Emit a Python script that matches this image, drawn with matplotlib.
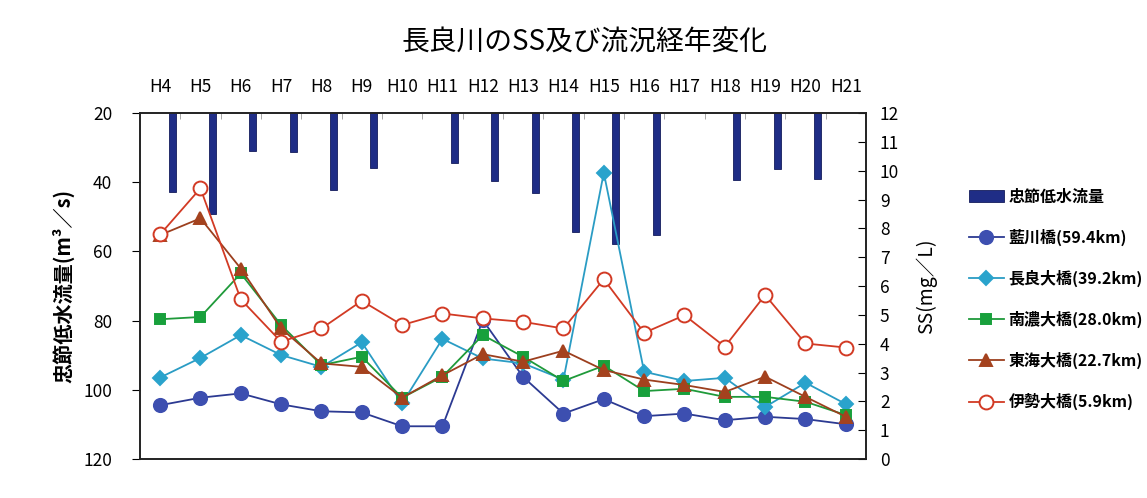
import numpy as np
import matplotlib.pyplot as plt

plt.rcParams['font.family'] = ['Noto Sans CJK JP', 'DejaVu Sans']

years = ["H4", "H5", "H6", "H7", "H8", "H9", "H10", "H11", "H12",
         "H13", "H14", "H15", "H16", "H17", "H18", "H19", "H20", "H21"]

# 忠節低水流量 (m3/s); nan = no bar
flow = [42.9, 49.2, 30.9, 31.2, 42.1, 35.9, np.nan, 34.3, 39.7,
        43.2, 54.5, 57.7, 55.3, np.nan, 39.4, 36.2, 39.0, np.nan]

# SS (mg/L) by station
ss_aikawa = [1.87, 2.13, 2.28, 1.90, 1.66, 1.62, 1.14, 1.14, 4.82,
             2.85, 1.58, 2.08, 1.49, 1.58, 1.35, 1.47, 1.39, 1.21]
ss_nagara = [2.83, 3.51, 4.30, 3.61, 3.20, 4.05, 1.93, 4.17, 3.49,
             3.32, 2.76, 9.93, 3.03, 2.71, 2.82, 1.81, 2.65, 1.91]
ss_nanno = [4.85, 4.93, 6.44, 4.65, 3.26, 3.55, 2.13, 2.86, 4.30,
            3.55, 2.71, 3.24, 2.36, 2.44, 2.16, 2.16, 1.99, 1.53]
ss_tokai = [7.77, 8.35, 6.61, 4.53, 3.32, 3.20, 2.13, 2.91, 3.64,
            3.38, 3.76, 3.09, 2.76, 2.57, 2.33, 2.86, 2.16, 1.47]
ss_ise = [7.79, 9.39, 5.54, 4.07, 4.53, 5.49, 4.65, 5.05, 4.88,
          4.76, 4.53, 6.24, 4.38, 4.99, 3.90, 5.69, 4.01, 3.87]

x = np.arange(len(years))

fig = plt.figure(figsize=(11.47, 4.98), dpi=100)
ax = fig.add_axes([0.122, 0.078, 0.633, 0.695])
ax2 = ax.twinx()

# flow bars hang from the top of the inverted left axis
flow_arr = np.array(flow)
bars = ax.bar(x + 0.3, flow_arr - 20, bottom=20, width=0.17,
              color='#1f2d86', edgecolor='#141c5c', linewidth=0.6,
              label='忠節低水流量')
ax.set_ylim(120, 20)
ax.set_yticks([20, 40, 60, 80, 100, 120])
ax.set_xlim(-0.5, len(years) - 0.5)
ax.set_xticks(x)
ax.set_xticklabels(years)
ax.set_xticks(x[:-1] + 0.5, minor=True)
ax.xaxis.set_ticks_position('top')
ax.tick_params(axis='x', which='major', length=0, pad=12, labelsize=12.5)
ax.tick_params(axis='x', which='minor', direction='in', length=4,
               color='#999999')
ax.tick_params(axis='y', direction='out', length=6, labelsize=12.5, pad=14)
ax.set_ylabel('忠節低水流量(m³／s)', fontsize=14.5, fontweight='bold',
              labelpad=6)

series = [
    (ss_aikawa, '藍川橋(59.4km)', '#2c3a92', 'o', '#3d4fb0', '#3d4fb0', 9.5),
    (ss_nagara, '長良大橋(39.2km)', '#2a9cc4', 'D', '#2aa3cc', '#2aa3cc', 7.5),
    (ss_nanno, '南濃大橋(28.0km)', '#1f9a3a', 's', '#18a03c', '#18a03c', 7.5),
    (ss_tokai, '東海大橋(22.7km)', '#9c3f1e', '^', '#a4421e', '#a4421e', 9),
    (ss_ise, '伊勢大橋(5.9km)', '#d23a24', 'o', 'white', '#d23a24', 10),
]
lines = []
for vals, name, col, mk, face, edge, ms in series:
    ln, = ax2.plot(x, vals, color=col, linewidth=1.3, marker=mk,
                   markersize=ms, markerfacecolor=face,
                   markeredgecolor=edge, markeredgewidth=1.4, label=name)
    lines.append(ln)

ax2.set_ylim(0, 12)
ax2.set_yticks(range(0, 13))
ax2.tick_params(axis='y', direction='in', length=6, labelsize=12.5, pad=10)
ax2.set_ylabel('SS(mg／L)', fontsize=14, labelpad=12)

for a in (ax, ax2):
    for s in a.spines.values():
        s.set_linewidth(1.2)
        s.set_color('#222222')

fig.text(0.51, 0.915, '長良川のSS及び流況経年変化', fontsize=20,
         ha='center', va='center')

fig.legend([bars] + lines, [bars.get_label()] + [l.get_label() for l in lines],
           loc='upper left', bbox_to_anchor=(0.832, 0.65), frameon=False,
           prop={'size': 11.5, 'weight': 'bold'}, handlelength=2.2,
           labelspacing=1.5, handletextpad=0.3)

fig.savefig('out.png', dpi=100, facecolor='white')
